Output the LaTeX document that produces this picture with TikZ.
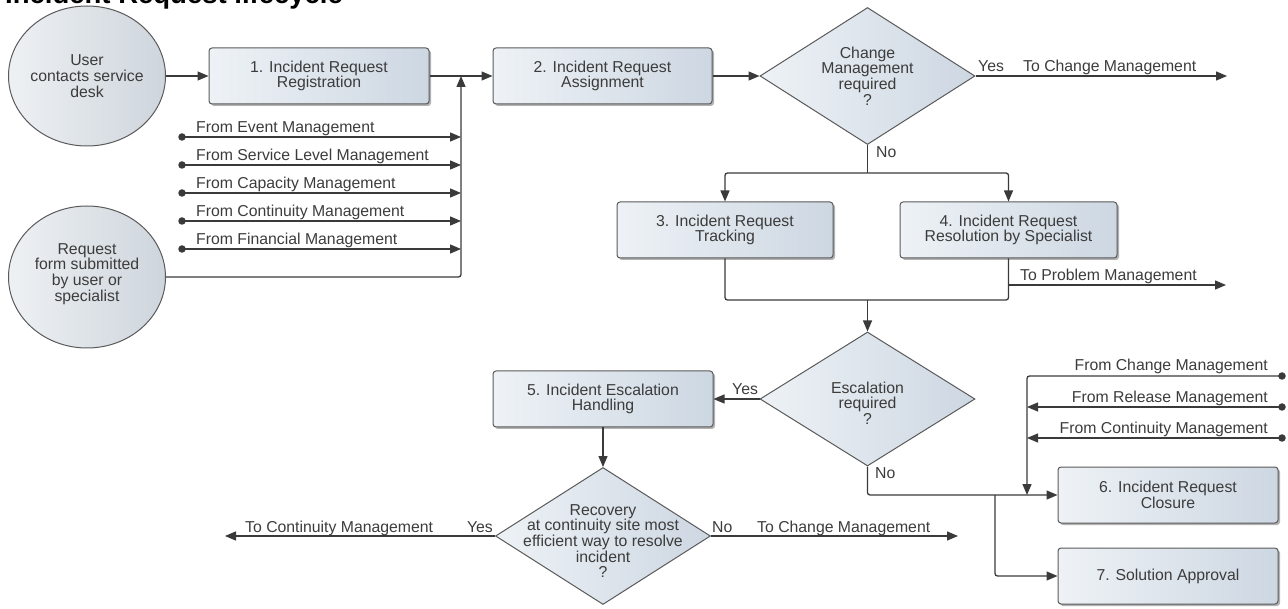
\documentclass[tikz,border=0pt]{standalone}
\usepackage{fontspec}
\setmainfont{Liberation Sans}
\usetikzlibrary{arrows.meta,shapes.geometric,shadows}
\definecolor{linec}{HTML}{3A3A3A}
\definecolor{txtc}{HTML}{3C3C3C}
\definecolor{edgec}{HTML}{5A5A5A}
\definecolor{boxL}{HTML}{EEF2F6}
\definecolor{boxR}{HTML}{CDD7E2}
\definecolor{cirL}{HTML}{EEF1F4}
\definecolor{cirR}{HTML}{CED5DC}
\begin{document}
\begin{tikzpicture}[x=1pt,y=-1pt,
  every node/.style={font=\fontsize{15.8}{15.7}\selectfont, text=txtc},
  conn/.style={draw=linec, line width=1.3pt, rounded corners=2.5pt},
  arr/.style={conn, -{Triangle[length=11pt,width=9pt]}},
  procbox/.style={draw=edgec, line width=1pt, rounded corners=3pt, left color=boxL, right color=boxR,
    minimum width=220pt, minimum height=56pt, inner sep=0pt, align=center,
    drop shadow={shadow xshift=2pt, shadow yshift=-2pt, opacity=0.3, fill=black}},
  decision/.style={diamond, draw=edgec, line width=1pt, left color=boxL, right color=boxR,
    minimum width=215pt, minimum height=137pt, inner sep=0pt},
  terminal/.style={ellipse, draw=edgec, line width=1pt, left color=cirL, right color=cirR,
    minimum width=157pt, minimum height=140pt, inner sep=0pt},
  inner/.style={align=center, inner sep=0pt},
  lbl/.style={inner sep=0pt},
  dot/.style={circle, fill=linec, minimum size=7.5pt, inner sep=0pt}
]
\useasboundingbox (0,0) rectangle (1288,609);

% title
\node[anchor=base west, inner sep=0pt, font=\bfseries\fontsize{27.5}{30}\selectfont, text=black] (title) at (5,4) {Incident Request lifecycle};

% terminals
\node[terminal, label={[inner]center:{User\\contacts service\\desk}}] (c1) at (87,76) {};
\node[terminal, minimum height=142pt, label={[inner, yshift=3pt]center:{Request\\form submitted\\by user or\\specialist}}] (c2) at (87,277) {};

% process boxes
\node[procbox] (b1) at (319,76) {1. Incident Request\\Registration};
\node[procbox, minimum width=219pt] (b2) at (602.5,76) {2. Incident Request\\Assignment};
\node[procbox, minimum width=216pt] (b3) at (725,230) {3. Incident Request\\Tracking};
\node[procbox, minimum width=217pt] (b4) at (1008.5,230) {4. Incident Request\\Resolution by Specialist};
\node[procbox] (b5) at (603,399) {5. Incident Escalation\\Handling};
\node[procbox] (b6) at (1168,495) {6. Incident Request\\Closure};
\node[procbox] (b7) at (1168,576) {7. Solution Approval};

% decisions
\node[decision, label={[inner]center:{Change\\Management\\required\\?}}] (d1) at (867.5,76) {};
\node[decision, minimum height=134pt, label={[inner, yshift=-4pt]center:{Escalation\\required\\?}}] (d2) at (867.5,399) {};
\node[decision, label={[inner, yshift=-5pt]center:{Recovery\\at continuity site most\\efficient way to resolve\\incident\\?}}] (d3) at (603,536) {};

% coordinates
\coordinate (J) at (461,76);
\coordinate (nb) at (867.5,173);
\coordinate (mg) at (867.5,300);
\coordinate (tc1) at (1227,76);
\coordinate (tp) at (1226,285);
\coordinate (tcont) at (225,536);
\coordinate (tc2) at (958,536);
\coordinate (K) at (1027,495);
\coordinate (B) at (995,495);

% left inputs
\node[dot] (s1) at (182,137) {};
\node[dot] (s2) at (182,165) {};
\node[dot] (s3) at (182,193) {};
\node[dot] (s4) at (182,221) {};
\node[dot] (s5) at (182,249) {};
\draw[arr] (s1.center) -- (s1 -| J);
\draw[arr] (s2.center) -- (s2 -| J);
\draw[arr] (s3.center) -- (s3 -| J);
\draw[arr] (s4.center) -- (s4 -| J);
\draw[arr] (s5.center) -- (s5 -| J);
\node[lbl, anchor=base west] (l1) at (196,133) {From Event Management};
\node[lbl, anchor=base west] (l2) at (196,161) {From Service Level Management};
\node[lbl, anchor=base west] (l3) at (196,189) {From Capacity Management};
\node[lbl, anchor=base west] (l4) at (196,217) {From Continuity Management};
\node[lbl, anchor=base west] (l5) at (196,245) {From Financial Management};

% main flow
\draw[arr] (c1.east) -- (b1.west);
\draw[arr] (b1.east) -- (b2.west);
\draw[arr] (c2.east) -| (J);
\draw[arr] (b2.east) -- (d1.west);
\draw[arr] (d1.east) -- (tc1);
\node[lbl, anchor=base west] (y1) at (978,72) {Yes};
\node[lbl, anchor=base west] (t1) at (1023,72) {To Change Management};

\draw[conn] (d1.south) -- (nb);
\draw[arr] (nb) -| (b3.north);
\draw[arr] (nb) -| (b4.north);
\node[lbl, anchor=base west] (n1) at (876,158) {No};

\draw[conn] (b3.south) |- (mg) -| (b4.south);
\draw[arr] (mg) -- (d2.north);
\draw[arr] (tp -| b4.south) -- (tp);
\node[lbl, anchor=base west] (t2) at (1020,281) {To Problem Management};

\draw[arr] (d2.west) -- (b5.east);
\node[lbl, anchor=base west] (y2) at (732,395) {Yes};
\draw[arr] (b5.south) -- (d3.north);

\draw[arr] (d3.west) -- (tcont);
\node[lbl, anchor=base east] (y3) at (493,532) {Yes};
\node[lbl, anchor=base west] (t3) at (245,532) {To Continuity Management};
\draw[arr] (d3.east) -- (tc2);
\node[lbl, anchor=base west] (n3) at (712,532) {No};
\node[lbl, anchor=base west] (t4) at (757,532) {To Change Management};

\draw[arr] (d2.south) |- (b6.west);
\node[lbl, anchor=base west] (n2) at (875,478) {No};
\draw[arr] (B) |- (b7.west);

% right inputs
\node[dot] (r1) at (1282,376) {};
\node[dot] (r2) at (1282,407) {};
\node[dot] (r3) at (1282,438) {};
\draw[arr] (r1.center) -| (K);
\draw[arr] (r2.center) -- (r2 -| K);
\draw[arr] (r3.center) -- (r3 -| K);
\node[lbl, anchor=base east] (rl1) at (1268,371) {From Change Management};
\node[lbl, anchor=base east] (rl2) at (1268,403) {From Release Management};
\node[lbl, anchor=base east] (rl3) at (1268,434) {From Continuity Management};
\end{tikzpicture}
\end{document}
